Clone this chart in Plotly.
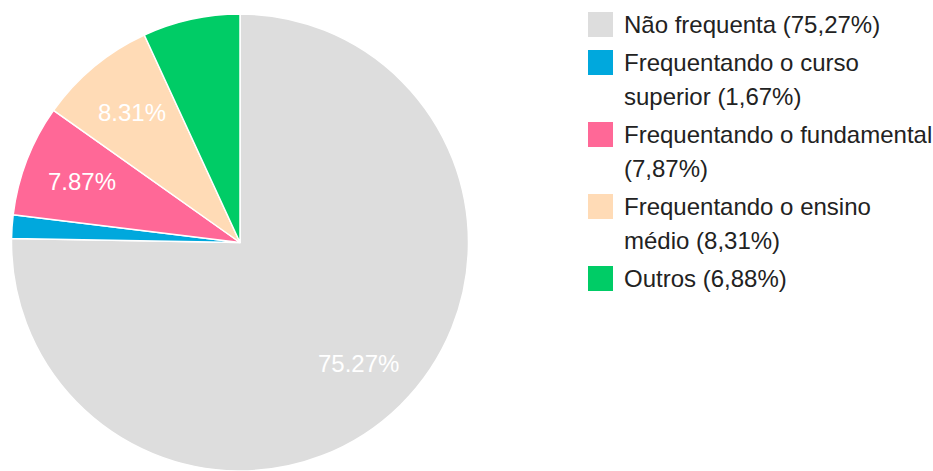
import math
import plotly.graph_objects as go

categories = [
    "Não frequenta",
    "Frequentando o curso superior",
    "Frequentando o fundamental",
    "Frequentando o ensino médio",
    "Outros",
]
legend_lines = [
    ["Não frequenta (75,27%)"],
    ["Frequentando o curso", "superior (1,67%)"],
    ["Frequentando o fundamental", "(7,87%)"],
    ["Frequentando o ensino", "médio (8,31%)"],
    ["Outros (6,88%)"],
]
values = [75.27, 1.67, 7.87, 8.31, 6.88]
show_text = [True, False, True, True, False]
colors = ["#DDDDDD", "#00A8DD", "#FF6897", "#FFDBB6", "#00CC66"]

W, H = 933, 471
TEXT = "#222222"
FONT = "Arial"

# pie geometry (pixels)
cx, top, bottom = 240, 14, 471
r_px = (bottom - top) / 2
cy = top + r_px

fig = go.Figure(
    go.Pie(
        labels=categories,
        values=values,
        textinfo="none",
        marker=dict(colors=colors, line=dict(color="white", width=1.5)),
        sort=False,
        direction="clockwise",
        rotation=0,
        domain=dict(x=[(cx - r_px) / W, (cx + r_px) / W], y=[0, 1 - top / H]),
        hoverinfo="label+percent",
        showlegend=False,
    )
)

annotations = []
shapes = []

# slice percentage labels, placed along each slice's middle angle
total = sum(values)
cum = 0.0
for v, s in zip(values, show_text):
    mid = (cum + v / 2) / total * 2 * math.pi
    cum += v
    if not s:
        continue
    rr = 0.74 * r_px
    px = cx + rr * math.sin(mid)
    py = cy - rr * math.cos(mid)
    annotations.append(dict(
        x=px / W, y=1 - py / H, xref="paper", yref="paper",
        text=f"{v:.2f}%", showarrow=False,
        font=dict(color="white", size=24, family=FONT),
        xanchor="center", yanchor="middle",
    ))

# custom legend
item_top = 12
sq = 25
line_h = 34
for lines, col in zip(legend_lines, colors):
    shapes.append(dict(
        type="rect", xref="paper", yref="paper",
        x0=588 / W, x1=(588 + sq) / W,
        y0=1 - item_top / H, y1=1 - (item_top + sq) / H,
        fillcolor=col, line=dict(width=0),
    ))
    for j, ln in enumerate(lines):
        ly = item_top + 12.5 + j * line_h
        annotations.append(dict(
            x=622 / W, y=1 - ly / H, xref="paper", yref="paper",
            text=ln, showarrow=False,
            font=dict(color=TEXT, size=24, family=FONT),
            xanchor="left", yanchor="middle",
        ))
    item_top += line_h * len(lines) + 4

fig.update_layout(
    width=W,
    height=H,
    margin=dict(l=0, r=0, t=0, b=0),
    paper_bgcolor="white",
    plot_bgcolor="white",
    font=dict(family=FONT, size=24, color=TEXT),
    showlegend=False,
    annotations=annotations,
    shapes=shapes,
)

fig.write_html(
    "out.html",
    config={"displayModeBar": False},
    post_script="document.body.style.margin='0';",
)
